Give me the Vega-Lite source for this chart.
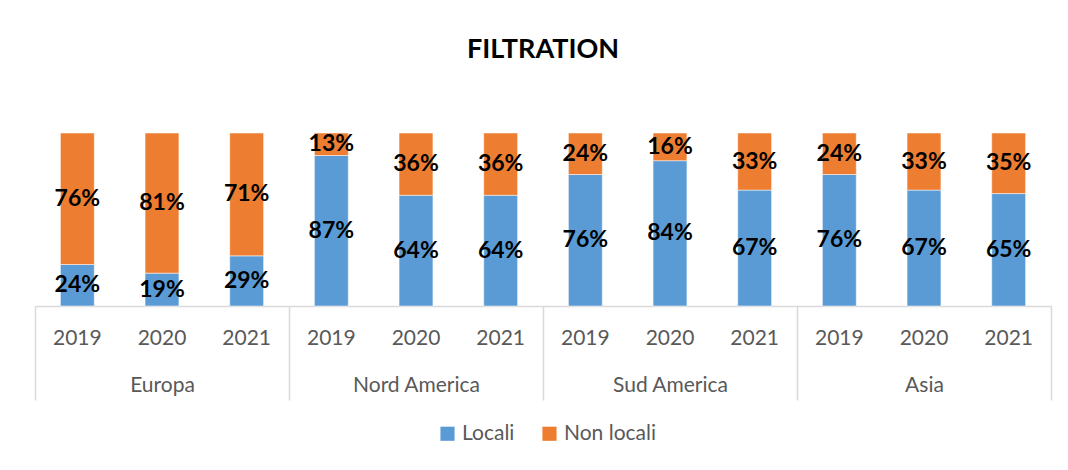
{
  "$schema": "https://vega.github.io/schema/vega-lite/v6.json",
  "autosize": {"type": "none"},
  "width": 1016,
  "height": 173,
  "padding": {"left": 35, "top": 133, "right": 17, "bottom": 164},
  "background": "white",
  "title": {
    "text": "FILTRATION",
    "anchor": "middle",
    "frame": "group",
    "font": "Lato",
    "fontSize": 27,
    "fontWeight": "bold",
    "color": "#000000",
    "baseline": "alphabetic",
    "offset": 48
  },
  "data": {
    "values": [
      {"region": "Europa", "year": "2019", "key": "Europa|2019", "cat": "Locali", "value": 0.24},
      {"region": "Europa", "year": "2019", "key": "Europa|2019", "cat": "Non locali", "value": 0.76},
      {"region": "Europa", "year": "2020", "key": "Europa|2020", "cat": "Locali", "value": 0.19},
      {"region": "Europa", "year": "2020", "key": "Europa|2020", "cat": "Non locali", "value": 0.81},
      {"region": "Europa", "year": "2021", "key": "Europa|2021", "cat": "Locali", "value": 0.29},
      {"region": "Europa", "year": "2021", "key": "Europa|2021", "cat": "Non locali", "value": 0.71},
      {"region": "Nord America", "year": "2019", "key": "Nord America|2019", "cat": "Locali", "value": 0.87},
      {"region": "Nord America", "year": "2019", "key": "Nord America|2019", "cat": "Non locali", "value": 0.13},
      {"region": "Nord America", "year": "2020", "key": "Nord America|2020", "cat": "Locali", "value": 0.64},
      {"region": "Nord America", "year": "2020", "key": "Nord America|2020", "cat": "Non locali", "value": 0.36},
      {"region": "Nord America", "year": "2021", "key": "Nord America|2021", "cat": "Locali", "value": 0.64},
      {"region": "Nord America", "year": "2021", "key": "Nord America|2021", "cat": "Non locali", "value": 0.36},
      {"region": "Sud America", "year": "2019", "key": "Sud America|2019", "cat": "Locali", "value": 0.76},
      {"region": "Sud America", "year": "2019", "key": "Sud America|2019", "cat": "Non locali", "value": 0.24},
      {"region": "Sud America", "year": "2020", "key": "Sud America|2020", "cat": "Locali", "value": 0.84},
      {"region": "Sud America", "year": "2020", "key": "Sud America|2020", "cat": "Non locali", "value": 0.16},
      {"region": "Sud America", "year": "2021", "key": "Sud America|2021", "cat": "Locali", "value": 0.67},
      {"region": "Sud America", "year": "2021", "key": "Sud America|2021", "cat": "Non locali", "value": 0.33},
      {"region": "Asia", "year": "2019", "key": "Asia|2019", "cat": "Locali", "value": 0.76},
      {"region": "Asia", "year": "2019", "key": "Asia|2019", "cat": "Non locali", "value": 0.24},
      {"region": "Asia", "year": "2020", "key": "Asia|2020", "cat": "Locali", "value": 0.67},
      {"region": "Asia", "year": "2020", "key": "Asia|2020", "cat": "Non locali", "value": 0.33},
      {"region": "Asia", "year": "2021", "key": "Asia|2021", "cat": "Locali", "value": 0.65},
      {"region": "Asia", "year": "2021", "key": "Asia|2021", "cat": "Non locali", "value": 0.35}
    ]
  },
  "layer": [
    {
      "layer": [
        {
          "mark": {"type": "bar", "stroke": "white", "strokeWidth": 0.5},
          "encoding": {
            "x": {
              "field": "key", "type": "nominal", "sort": null,
              "scale": {"paddingInner": 0.6, "paddingOuter": 0.3},
              "axis": {
                "orient": "bottom", "title": null, "ticks": false,
                "labelExpr": "split(datum.value, '|')[1]",
                "labelAngle": 0, "labelFont": "Lato", "labelFontSize": 21,
                "labelColor": "#595959", "labelPadding": 21,
                "domainColor": "#D9D9D9", "domainWidth": 1.5, "grid": false
              }
            },
            "y": {
              "field": "value", "type": "quantitative", "stack": "normalize",
              "scale": {"domain": [0, 1]}, "axis": null
            },
            "order": {"field": "cat", "type": "ordinal", "sort": "ascending"},
            "color": {
              "field": "cat", "type": "nominal",
              "scale": {"domain": ["Locali", "Non locali"], "range": ["#5B9BD5", "#ED7D31"]},
              "legend": {
                "title": null, "orient": "none", "legendX": 402, "legendY": 290,
                "direction": "horizontal",
                "symbolType": "square", "symbolSize": 200, "symbolStrokeWidth": 0,
                "labelFont": "Lato", "labelFontSize": 21, "labelColor": "#595959",
                "columnPadding": 24
              }
            }
          }
        },
        {
          "transform": [
            {"stack": "value", "groupby": ["key"], "sort": [{"field": "cat", "order": "ascending"}], "offset": "normalize", "as": ["v0", "v1"]},
            {"calculate": "(datum.v0 + datum.v1) / 2", "as": "mid"}
          ],
          "mark": {"type": "text", "font": "Lato", "fontSize": 23, "fontWeight": "bold", "color": "#000000", "baseline": "middle"},
          "encoding": {
            "x": {"field": "key", "type": "nominal", "sort": null},
            "y": {"field": "mid", "type": "quantitative"},
            "text": {"field": "value", "type": "quantitative", "format": ".0%"}
          }
        }
      ]
    },
    {
      "mark": {"type": "rule", "opacity": 0},
      "encoding": {
        "x": {
          "field": "region", "type": "nominal", "sort": null,
          "scale": {"type": "band", "paddingInner": 0, "paddingOuter": 0},
          "axis": {
            "orient": "bottom", "title": null, "domain": false, "grid": false,
            "ticks": true, "tickBand": "extent", "tickSize": 94, "tickColor": "#D9D9D9", "tickWidth": 1.5,
            "labelAngle": 0, "labelFont": "Lato", "labelFontSize": 21,
            "labelColor": "#595959", "labelPadding": -26
          }
        }
      }
    }
  ],
  "resolve": {"scale": {"x": "independent"}, "axis": {"x": "independent"}},
  "config": {"view": {"stroke": null}}
}
